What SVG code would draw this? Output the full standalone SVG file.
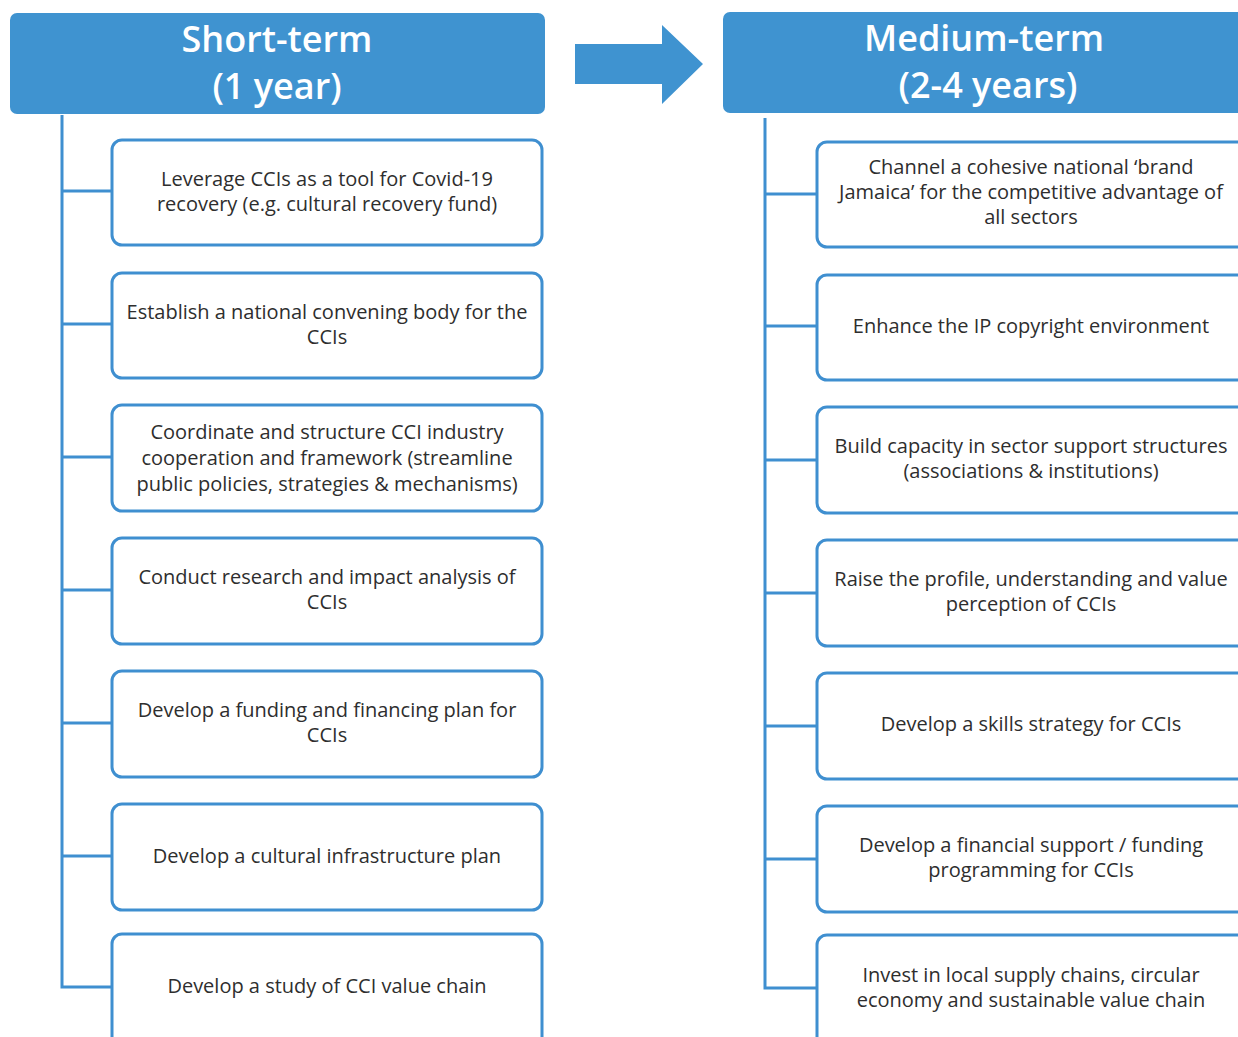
<svg xmlns="http://www.w3.org/2000/svg" width="1238" height="1037" viewBox="0 0 1238 1037">
<style>
.hdr{fill:#3F93D0;}
.ht{fill:#fff;font-family:"Open Sans","Liberation Sans",sans-serif;font-size:36px;font-weight:600;text-anchor:middle;}
.box{fill:#fff;stroke:#3F8FD0;stroke-width:3;}
.bt{fill:#2e2e2e;font-family:"Open Sans","Liberation Sans",sans-serif;font-size:20px;text-anchor:middle;}
.con{fill:none;stroke:#3F8FD0;stroke-width:3;}
</style>
<rect width="1238" height="1037" fill="#fff"/>
<g id="short-term">
<rect class="hdr" x="10" y="13" width="535" height="101" rx="7"/>
<text class="ht" x="277" y="52">Short-term</text>
<text class="ht" x="277" y="99">(1 year)</text>
</g>
<g id="arrow">
<polygon class="hdr" points="575,44 662,44 662,25 703,64 662,104 662,84 575,84"/>
</g>
<g id="medium-term">
<rect class="hdr" x="723" y="12" width="530" height="101" rx="7"/>
<text class="ht" x="984" y="51">Medium-term</text>
<text class="ht" x="988" y="98">(2-4 years)</text>
</g>
<g id="connectors">
<path class="con" d="M62,115 V987 H112 M62,191 H112 M62,324 H112 M62,457 H112 M62,590 H112 M62,723 H112 M62,856 H112"/>
<path class="con" d="M765,118 V988 H817 M765,194 H817 M765,326 H817 M765,460 H817 M765,593 H817 M765,726 H817 M765,859 H817"/>
</g>
<g id="s1"><rect class="box" x="112" y="140" width="430" height="105" rx="10"/>
<text class="bt" x="327" y="186">Leverage CCIs as a tool for Covid-19</text>
<text class="bt" x="327" y="211">recovery (e.g. cultural recovery fund)</text></g>
<g id="s2"><rect class="box" x="112" y="273" width="430" height="105" rx="10"/>
<text class="bt" x="327" y="319">Establish a national convening body for the</text>
<text class="bt" x="327" y="344">CCIs</text></g>
<g id="s3"><rect class="box" x="112" y="405" width="430" height="106" rx="10"/>
<text class="bt" x="327" y="439">Coordinate and structure CCI industry</text>
<text class="bt" x="327" y="465">cooperation and framework  (streamline</text>
<text class="bt" x="327" y="491">public policies, strategies &amp; mechanisms)</text></g>
<g id="s4"><rect class="box" x="112" y="538" width="430" height="106" rx="10"/>
<text class="bt" x="327" y="584">Conduct research and impact analysis of</text>
<text class="bt" x="327" y="609">CCIs</text></g>
<g id="s5"><rect class="box" x="112" y="671" width="430" height="106" rx="10"/>
<text class="bt" x="327" y="717">Develop a funding and financing plan for</text>
<text class="bt" x="327" y="742">CCIs</text></g>
<g id="s6"><rect class="box" x="112" y="804" width="430" height="106" rx="10"/>
<text class="bt" x="327" y="863">Develop a cultural infrastructure plan</text></g>
<g id="s7"><rect class="box" x="112" y="934" width="430" height="120" rx="10"/>
<text class="bt" x="327" y="993">Develop a study of CCI value chain</text></g>
<g id="m1"><rect class="box" x="817" y="142" width="440" height="105" rx="10"/>
<text class="bt" x="1031" y="174">Channel a cohesive national ‘brand</text>
<text class="bt" x="1031" y="199">Jamaica’ for the competitive advantage of</text>
<text class="bt" x="1031" y="224">all sectors</text></g>
<g id="m2"><rect class="box" x="817" y="275" width="440" height="105" rx="10"/>
<text class="bt" x="1031" y="333">Enhance the IP copyright environment</text></g>
<g id="m3"><rect class="box" x="817" y="407" width="440" height="106" rx="10"/>
<text class="bt" x="1031" y="453">Build capacity in sector support structures</text>
<text class="bt" x="1031" y="478">(associations &amp; institutions)</text></g>
<g id="m4"><rect class="box" x="817" y="540" width="440" height="106" rx="10"/>
<text class="bt" x="1031" y="586">Raise the profile, understanding and value</text>
<text class="bt" x="1031" y="611">perception of CCIs</text></g>
<g id="m5"><rect class="box" x="817" y="673" width="440" height="106" rx="10"/>
<text class="bt" x="1031" y="731">Develop a skills strategy for CCIs</text></g>
<g id="m6"><rect class="box" x="817" y="806" width="440" height="106" rx="10"/>
<text class="bt" x="1031" y="852">Develop a financial support / funding</text>
<text class="bt" x="1031" y="877">programming for CCIs</text></g>
<g id="m7"><rect class="box" x="817" y="935" width="440" height="120" rx="10"/>
<text class="bt" x="1031" y="982">Invest in local supply chains, circular</text>
<text class="bt" x="1031" y="1007">economy and sustainable value chain</text></g>
</svg>
